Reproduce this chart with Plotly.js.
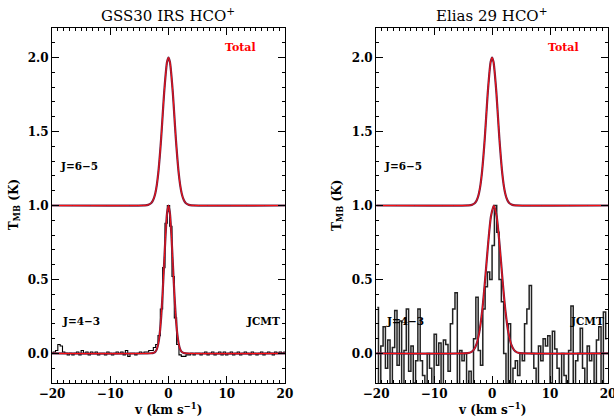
<!DOCTYPE html>
<html><head><meta charset="utf-8">
<script src="https://cdn.plot.ly/plotly-3.0.1.min.js"></script>
<style>html,body{margin:0;padding:0;background:#fff;overflow:hidden}#chart{width:614px;height:418px}</style>
</head><body><div id="chart"></div>
<script>
// ---- Data ----
const panelTitles = ['GSS30 IRS HCO<sup>+</sup>', 'Elias 29 HCO<sup>+</sup>'];
const xTicks = [-20, -10, 0, 10, 20];
const yTicks = [0.0, 0.5, 1.0, 1.5, 2.0];

// J=6-5 model (offset by +1 K), same in both panels
const modelTopV = [-20,-4,-3.5,-3,-2.75,-2.5,-2.25,-2,-1.75,-1.5,-1.25,-1,-0.75,-0.5,-0.25,0,0.25,0.5,0.75,1,1.25,1.5,1.75,2,2.25,2.5,2.75,3,3.5,4,20];
const modelTopT = [1,1.001,1.004,1.015,1.028,1.05,1.085,1.14,1.22,1.33,1.46,1.61,1.76,1.88,1.97,2.0,1.97,1.88,1.76,1.61,1.46,1.33,1.22,1.14,1.085,1.05,1.028,1.015,1.004,1.001,1];

// GSS30 IRS J=4-3 model
const modelLeftV = [-20,-3,-2.5,-2.25,-2,-1.75,-1.5,-1.25,-1,-0.75,-0.5,-0.25,0,0.25,0.5,0.75,1,1.25,1.5,1.75,2,2.25,2.5,3,20];
const modelLeftT = [0,0.001,0.005,0.011,0.029,0.066,0.135,0.249,0.411,0.607,0.801,0.946,1,0.946,0.801,0.607,0.411,0.249,0.135,0.066,0.029,0.011,0.005,0.001,0];

// Elias 29 J=4-3 model
const modelRightV = [-20,-4.2,-3.7,-3.2,-2.7,-2.2,-1.7,-1.2,-0.7,-0.2,0.3,0.8,1.3,1.8,2.3,2.8,3.3,3.8,4.3,4.8,20];
const modelRightT = [0,0.002,0.007,0.022,0.061,0.144,0.289,0.498,0.733,0.925,1,0.925,0.733,0.498,0.289,0.144,0.061,0.022,0.007,0.002,0];

// GSS30 IRS JCMT J=4-3 spectrum
const specLeftV = [
-20.0,-19.6,-19.2,-18.8,-18.4,-18.0,-17.6,-17.2,-16.8,-16.4,
-16.0,-15.6,-15.2,-14.8,-14.4,-14.0,-13.6,-13.2,-12.8,-12.4,
-12.0,-11.6,-11.2,-10.8,-10.4,-10.0,-9.6,-9.2,-8.8,-8.4,
-8.0,-7.6,-7.2,-6.8,-6.4,-6.0,-5.6,-5.2,-4.8,-4.4,
-4.0,-3.6,-3.2,-2.8,-2.4,-2.0,-1.6,-1.2,-0.8,-0.4,
0.0,0.4,0.8,1.2,1.6,2.0,2.4,2.8,3.2,3.6,
4.0,4.4,4.8,5.2,5.6,6.0,6.4,6.8,7.2,7.6,
8.0,8.4,8.8,9.2,9.6,10.0,10.4,10.8,11.2,11.6,
12.0,12.4,12.8,13.2,13.6,14.0,14.4,14.8,15.2,15.6,
16.0,16.4,16.8,17.2,17.6,18.0,18.4,18.8,19.2,19.6,20.0];
const specLeftT = [
0.00,0.01,0.02,0.06,0.05,0.01,0.00,-0.01,0.00,-0.01,
0.00,0.01,-0.01,0.02,0.00,0.01,-0.01,0.01,0.00,0.01,
-0.01,0.00,0.00,-0.01,0.01,0.00,-0.01,0.00,0.01,0.00,
0.01,-0.01,0.02,-0.02,0.00,0.00,-0.01,0.00,0.01,0.00,
0.01,0.01,0.02,0.02,0.04,0.06,0.12,0.30,0.58,0.88,
1.00,0.86,0.52,0.24,0.06,-0.01,-0.02,-0.02,-0.01,-0.01,
0.00,-0.01,0.00,0.00,-0.01,0.00,0.01,-0.01,0.00,0.01,
-0.01,0.00,0.01,-0.01,0.01,-0.01,0.00,0.01,-0.01,0.00,
0.01,-0.01,0.00,0.01,0.00,-0.01,0.01,0.00,-0.01,0.00,
0.01,-0.01,0.00,0.01,0.00,-0.01,0.01,0.00,0.01,0.00,0.01];

// Elias 29 JCMT J=4-3 spectrum
const specRightV = [
-19.8,-19.4,-19.0,-18.6,-18.2,-17.8,-17.4,-17.0,-16.6,-16.2,
-15.8,-15.4,-15.0,-14.6,-14.2,-13.8,-13.4,-13.0,-12.6,-12.2,
-11.8,-11.4,-11.0,-10.6,-10.2,-9.8,-9.4,-9.0,-8.6,-8.2,
-7.8,-7.4,-7.0,-6.6,-6.2,-5.8,-5.4,-5.0,-4.6,-4.2,
-3.8,-3.4,-3.0,-2.6,-2.2,-1.8,-1.4,-1.0,-0.6,-0.2,
0.2,0.6,1.0,1.4,1.8,2.2,2.6,3.0,3.4,3.8,
4.2,4.6,5.0,5.4,5.8,6.2,6.6,7.0,7.4,7.8,
8.2,8.6,9.0,9.4,9.8,10.2,10.6,11.0,11.4,11.8,
12.2,12.6,13.0,13.4,13.8,14.2,14.6,15.0,15.4,15.8,
16.2,16.6,17.0,17.4,17.8,18.2,18.6,19.0,19.4,19.8];
const specRightT = [
0.31,-0.25,0.05,0.18,-0.10,0.09,-0.25,0.04,0.29,-0.08,
0.22,-0.25,0.02,0.30,-0.12,0.05,-0.20,-0.05,0.30,-0.05,
-0.15,-0.25,0.00,-0.10,-0.22,0.13,-0.08,0.07,-0.25,0.09,
0.06,-0.12,0.20,0.30,0.41,-0.25,0.02,-0.05,0.00,-0.25,
-0.12,-0.22,0.10,0.38,0.02,-0.08,0.30,0.45,0.55,0.50,
0.73,1.00,0.82,0.50,0.35,0.00,-0.25,0.20,-0.25,-0.10,
-0.05,-0.15,0.00,-0.05,0.20,0.30,0.46,0.00,-0.10,-0.25,
0.05,-0.05,0.10,0.05,0.12,-0.20,0.15,0.03,-0.10,-0.25,
0.00,-0.15,-0.25,0.02,0.32,-0.25,-0.05,0.00,0.17,-0.10,
-0.25,0.05,-0.05,0.00,-0.20,0.09,0.18,-0.25,0.28,0.10];

// ---- Figure ----
const FONT = '"DejaVu Serif", "Liberation Serif", serif';
const DARK = '#6a1f45', RED = '#ff1010';

function modelPair(v, t, xa, ya) {
  return [
    {x: v, y: t, xaxis: xa, yaxis: ya, mode: 'lines', line: {color: DARK, width: 2.2, shape: 'spline', smoothing: 0.6}, hoverinfo: 'skip'},
    {x: v, y: t, xaxis: xa, yaxis: ya, mode: 'lines', line: {color: RED, width: 1, shape: 'spline', smoothing: 0.6}, hoverinfo: 'skip'}
  ];
}

const traces = [
  {x: specLeftV, y: specLeftT, xaxis: 'x', yaxis: 'y', mode: 'lines', line: {color: '#000', width: 1.1, shape: 'hvh'}},
  ...modelPair(modelTopV, modelTopT, 'x', 'y'),
  ...modelPair(modelLeftV, modelLeftT, 'x', 'y'),
  {x: specRightV, y: specRightT, xaxis: 'x2', yaxis: 'y2', mode: 'lines', line: {color: '#222', width: 1.5, shape: 'hvh'}},
  ...modelPair(modelTopV, modelTopT, 'x2', 'y2'),
  ...modelPair(modelRightV, modelRightT, 'x2', 'y2')
];

const tickFont = {family: FONT, size: 12, color: '#000', weight: 'bold'};
function xAx(dom, anchor) {
  return {domain: dom, anchor: anchor, range: [-20, 20], tickvals: xTicks, ticks: 'inside', ticklen: 7, tickwidth: 1,
    tickcolor: '#000', minor: {dtick: 1, ticks: 'inside', ticklen: 3, tickcolor: '#000'},
    mirror: 'allticks', showline: true, linecolor: '#000', linewidth: 1, showgrid: false, zeroline: false,
    ticklabeloverflow: 'allow', tickfont: tickFont, fixedrange: true};
}
function yAx(anchor) {
  return {anchor: anchor, range: [-0.2, 2.2], tickvals: yTicks, tickformat: '.1f', ticks: 'inside', ticklen: 7, tickwidth: 1,
    tickcolor: '#000', minor: {dtick: 0.1, ticks: 'inside', ticklen: 3, tickcolor: '#000'},
    mirror: 'allticks', showline: true, linecolor: '#000', linewidth: 1, showgrid: false, zeroline: false,
    tickfont: tickFont, fixedrange: true};
}

const lblFont = {family: FONT, size: 10.5, color: '#000', weight: 'bold'};
const annotations = [];
const centers = [0.2086, 0.791];
const yTitleX = [-0.0665, 0.514];
['x', 'x2'].forEach((xa, i) => {
  const ya = i === 0 ? 'y' : 'y2';
  annotations.push(
    {xref: 'paper', yref: 'paper', x: centers[i], y: 1.036, text: panelTitles[i], showarrow: false,
     xanchor: 'center', yanchor: 'middle', font: {family: FONT, size: 15, color: '#000'}},
    {xref: 'paper', yref: 'paper', x: centers[i], y: -0.072, text: 'v (km s<sup>\u22121</sup>)', showarrow: false,
     xanchor: 'center', yanchor: 'middle', font: {family: FONT, size: 12, color: '#000', weight: 'bold'}},
    {xref: 'paper', yref: 'paper', x: yTitleX[i], y: 0.501, text: 'T<sub>MB</sub> (K)', textangle: -90, showarrow: false,
     xanchor: 'center', yanchor: 'middle', font: {family: FONT, size: 12, color: '#000', weight: 'bold'}},
    {xref: xa, yref: ya, x: 12.4, y: 2.07, text: 'Total', showarrow: false, font: {family: FONT, size: 11, color: '#ff0000', weight: 'bold'}},
    {xref: xa, yref: ya, x: -15.3, y: 1.27, text: 'J=6\u22125', showarrow: false, font: lblFont},
    {xref: xa, yref: ya, x: -15.0, y: 0.22, text: 'J=4\u22123', showarrow: false, font: lblFont},
    {xref: xa, yref: ya, x: 16.3, y: 0.22, text: 'JCMT', showarrow: false, font: lblFont}
  );
});

const layout = {
  width: 614, height: 418,
  margin: {l: 52, r: 6, t: 28, b: 35},
  paper_bgcolor: '#fff', plot_bgcolor: '#fff',
  showlegend: false,
  xaxis: xAx([0, 0.419], 'y'),
  yaxis: yAx('x'),
  xaxis2: xAx([0.583, 1], 'y2'),
  yaxis2: yAx('x2'),
  annotations: annotations
};

Plotly.newPlot('chart', traces, layout, {staticPlot: true, displayModeBar: false});
</script></body></html>
